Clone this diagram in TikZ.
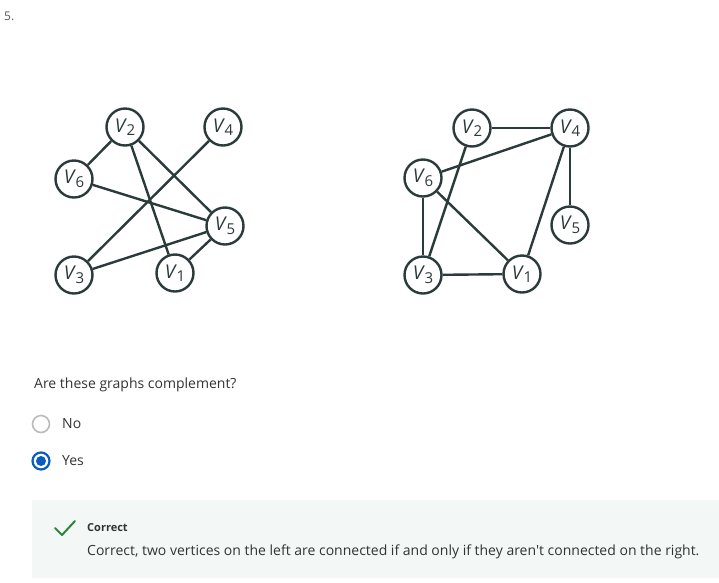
\documentclass[tikz,border=0pt]{standalone}
\usepackage{fontspec}
\setmainfont{Open Sans}[Ligatures=TeXOff]
\definecolor{edgec}{HTML}{2B3A3A}
\definecolor{txtc}{HTML}{333333}
\definecolor{graytxt}{HTML}{555555}
\definecolor{radiogray}{HTML}{BBBBBB}
\definecolor{radioblue}{HTML}{0B5CC0}
\definecolor{boxbg}{HTML}{F3F8F6}
\definecolor{checkgreen}{HTML}{2E8540}
\newcommand{\vlab}[1]{\textit{V}\kern-0.5pt\raisebox{-3.5pt}{\fontsize{15}{15}\selectfont #1}}
\tikzset{
  vert/.style={circle, draw=edgec, line width=2.4pt, fill=white, minimum size=37pt, inner sep=0pt, font=\fontsize{19}{19}\selectfont, text=edgec},
  edge/.style={draw=edgec, line width=2.4pt},
  body/.style={font=\fontsize{14}{16}\selectfont, text=txtc, anchor=west, inner sep=0pt},
}
\begin{document}
\begin{tikzpicture}[x=1pt,y=-1pt]
\useasboundingbox (0,0) rectangle (719,582);
\node[font=\fontsize{12}{12}\selectfont, text=graytxt, anchor=west, inner sep=0pt] (num) at (4,16) {5.};
% left graph
\node[vert] (l2) at (125,127) {\vlab{2}};
\node[vert] (l4) at (223,127) {\vlab{4}};
\node[vert] (l6) at (74,179) {\vlab{6}};
\node[vert] (l5) at (225,226) {\vlab{5}};
\node[vert] (l3) at (74,275) {\vlab{3}};
\node[vert] (l1) at (175,273) {\vlab{1}};
\draw[edge] (l2) -- (l6);
\draw[edge] (l2) -- (l1);
\draw[edge] (l2) -- (l5);
\draw[edge] (l4) -- (l3);
\draw[edge] (l6) -- (l5);
\draw[edge] (l3) -- (l5);
\draw[edge] (l1) -- (l5);
% right graph
\node[vert] (r2) at (472,128) {\vlab{2}};
\node[vert] (r4) at (570,128) {\vlab{4}};
\node[vert] (r6) at (423,178) {\vlab{6}};
\node[vert] (r5) at (570,225) {\vlab{5}};
\node[vert] (r3) at (423,275) {\vlab{3}};
\node[vert] (r1) at (522,274) {\vlab{1}};
\draw[edge] (r2) -- (r4);
\draw[edge] (r6) -- (r4);
\draw[edge] (r2) -- (r3);
\draw[edge] (r6) -- (r3);
\draw[edge] (r6) -- (r1);
\draw[edge] (r3) -- (r1);
\draw[edge] (r4) -- (r1);
\draw[edge] (r4) -- (r5);
% question
\node[body] (q) at (34,385) {Are these graphs complement?};
\node[circle, draw=radiogray, line width=1.6pt, minimum size=17pt, inner sep=0pt] (rno) at (41,424) {};
\node[body] (lno) at (62,424) {No};
\node[circle, draw=radioblue, line width=2.2pt, minimum size=17pt, inner sep=0pt] (ryes) at (41,461) {};
\fill[radioblue] (ryes.center) circle (5pt);
\node[body] (lyes) at (62,461) {Yes};
% feedback box
\fill[boxbg] (32,500) rectangle (719,578);
\draw[checkgreen, line width=2pt, line cap=round, line join=round] (55,528) -- (62,535) -- (75,521);
\node[font=\fontsize{11}{12}\selectfont\bfseries, text=txtc, anchor=west, inner sep=0pt] (cor) at (87,528) {Correct};
\node[body] (expl) at (87,552) {Correct, two vertices on the left are connected if and only if they aren't connected on the right.};
\end{tikzpicture}
\end{document}
